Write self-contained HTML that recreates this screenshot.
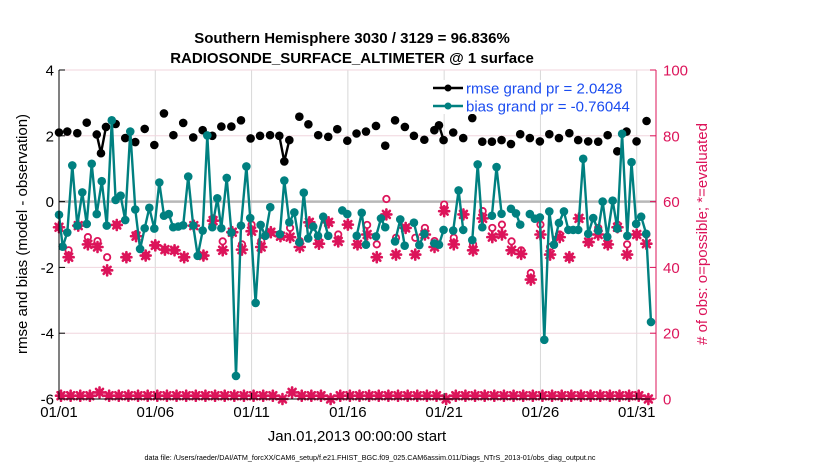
<!DOCTYPE html>
<html><head><meta charset="utf-8">
<style>
html,body{margin:0;padding:0;background:#fff;}
svg{display:block;font-family:"Liberation Sans",Arial,sans-serif;}
</style></head>
<body>
<svg id="chart" width="830" height="470" viewBox="0 0 830 470" xmlns="http://www.w3.org/2000/svg">
<text x="352" y="43" text-anchor="middle" font-size="15" font-weight="bold">Southern Hemisphere 3030 / 3129 = 96.836%</text>
<text x="352" y="63" text-anchor="middle" font-size="15" font-weight="bold">RADIOSONDE_SURFACE_ALTIMETER @ 1 surface</text>
<text transform="translate(27,234) rotate(-90)" text-anchor="middle" font-size="15">rmse and bias (model - observation)</text>
<text transform="translate(707,234) rotate(-90)" text-anchor="middle" font-size="15" fill="#dc145a"># of obs: o=possible; *=evaluated</text>
<text x="357" y="441" text-anchor="middle" font-size="15">Jan.01,2013 00:00:00 start</text>
<text x="370" y="460" text-anchor="middle" font-size="7.2">data file: /Users/raeder/DAI/ATM_forcXX/CAM6_setup/f.e21.FHIST_BGC.f09_025.CAM6assim.011/Diags_NTrS_2013-01/obs_diag_output.nc</text>
<g id="grid"></g>
<g id="marks"></g>
<g id="axes"></g>
<g id="legend"></g>
</svg>
<script>
// ---- data ----
const xTickDays = [0, 5, 10, 15, 20, 25, 30];
const xTickLabels = ["01/01", "01/06", "01/11", "01/16", "01/21", "01/26", "01/31"];
const leftTicks = [-6, -4, -2, 0, 2, 4];
const rightTicks = [0, 20, 40, 60, 80, 100];

const rmseDays = [0,0.43,0.95,1.44,1.96,2.18,2.44,2.94,3.44,3.96,4.45,4.95,5.45,5.94,6.45,6.97,7.46,7.96,8.43,8.95,9.45,9.95,10.44,10.96,11.44,11.70,11.96,12.48,12.95,13.46,13.98,14.45,14.97,15.45,15.94,16.46,16.94,17.45,17.96,18.43,18.97,19.49,19.73,19.97,20.47,20.99,21.46,21.98,22.48,22.98,23.47,23.95,24.45,24.97,25.46,25.96,26.50,26.96,27.48,28.00,28.49,28.99,29.47,29.99,30.51];
const rmseVals = [2.10,2.13,2.08,2.40,2.04,1.47,2.27,2.36,1.93,1.81,2.21,1.72,2.68,2.02,2.39,1.95,2.17,2.00,2.28,2.28,2.47,1.92,2.00,2.02,2.00,1.22,1.87,2.58,2.35,2.02,1.97,2.20,1.85,2.07,2.13,2.30,1.70,2.47,2.27,2.00,1.88,2.17,2.32,1.87,2.10,1.93,2.54,1.82,1.82,1.87,1.75,2.05,1.93,1.83,2.05,1.93,2.08,1.87,1.83,1.82,2.02,1.53,2.13,1.83,2.45];

const biasDays = [0,0.19,0.43,0.69,0.95,1.21,1.44,1.70,1.96,2.22,2.48,2.74,2.94,3.20,3.44,3.70,3.96,4.21,4.45,4.69,4.95,5.21,5.45,5.70,5.93,6.19,6.45,6.71,6.97,7.20,7.46,7.70,7.96,8.22,8.43,8.71,8.95,9.19,9.45,9.73,9.93,10.21,10.47,10.71,10.97,11.47,11.70,11.96,12.22,12.48,12.71,12.94,13.20,13.45,13.72,13.98,14.71,14.97,15.46,15.72,15.94,16.46,16.72,16.94,17.45,17.72,17.95,18.43,18.71,18.97,19.49,19.73,19.97,20.47,20.75,20.99,21.46,21.74,21.98,22.48,22.72,22.98,23.47,23.73,23.95,24.45,24.71,24.97,25.20,25.46,25.70,25.96,26.22,26.45,26.70,26.96,27.22,27.48,27.74,28.00,28.23,28.47,28.75,28.99,29.24,29.51,29.73,29.97,30.23,30.49,30.74];
const biasVals = [-0.40,-1.37,-0.94,1.10,-0.73,0.28,-0.68,1.15,-0.38,0.62,-0.73,2.47,0.05,0.18,-0.56,2.13,-0.24,-1.44,-0.81,-0.19,-0.82,0.58,-0.43,-0.38,-0.78,-0.76,-0.72,0.76,-0.73,-1.65,-0.88,2.01,-0.78,0.10,-0.81,0.72,-0.94,-5.30,-0.73,1.07,-0.50,-3.08,-0.71,-1.04,-0.17,-0.99,0.64,-0.63,-0.33,-1.24,0.27,-1.12,-0.76,-1.04,-0.46,-1.04,-0.27,-0.38,-1.04,-0.34,-1.31,-1.06,-0.51,-0.78,-1.21,-0.54,-1.34,-0.64,-1.32,-0.98,-1.27,-1.31,-0.86,-0.88,0.34,-0.86,-1.17,1.13,-0.78,-0.43,1.05,-0.37,-0.22,-0.36,-0.70,-0.38,-0.52,-0.48,-4.20,-0.30,-1.31,-0.65,-0.30,-0.86,-0.86,-0.86,1.30,-0.98,-0.50,-0.88,0.00,-1.07,0.03,-0.82,2.06,-1.04,1.20,-0.68,-0.46,-0.98,-3.66];

const obsEvaluated = [52.2,43.1,52.7,47.0,46.2,39.1,52.9,43.1,49.5,43.6,46.7,45.4,45.2,43.1,52.7,43.6,54.2,45.2,50.7,45.4,51.0,46.2,50.7,49.5,49.2,46.2,53.7,47.2,53.7,47.9,53.0,47.0,50.0,43.1,56.1,43.9,52.0,43.9,50.0,46.2,57.1,47.0,56.1,45.2,54.9,49.2,50.0,45.2,44.1,36.3,50.0,43.9,49.2,43.1,54.9,47.7,50.0,47.0,52.2,43.9,50.0,47.2];
const obsPossible = [52.2,45.2,52.7,49.2,48.0,43.1,52.9,43.1,50.0,43.6,46.7,45.4,45.2,43.1,52.7,43.6,54.9,47.9,50.7,47.0,53.0,48.0,50.7,49.5,52.0,48.0,53.7,48.0,53.7,50.0,53.0,47.0,52.9,47.0,60.8,49.0,52.0,49.0,52.0,48.0,59.1,49.0,56.1,47.0,57.1,52.0,53.0,47.9,45.2,38.3,53.0,46.2,50.0,43.1,54.9,47.7,52.0,47.0,53.0,47.0,50.0,50.0];
const obsRejected = [1,1,1,1,2,1,1,1,1,1,1,1,1,1,1,1,1,1,1,1,1,1,1,0,2,1,1,1,0,1,1,1,1,1,1,1,1,1,1,1,0,1,1,1,1,1,1,1,1,1,1,1,1,1,1,1,1,1,1,1,1,0];

// ---- axes ----
const X0 = 59, X1 = 656, Y0 = 70, Y1 = 399;
const DAYMAX = 31.0;
const xs = d => X0 + d / DAYMAX * (X1 - X0);
const yL = v => Y1 - (v + 6) / 10 * (Y1 - Y0);
const yR = v => Y1 - v / 100 * (Y1 - Y0);
const obsDay = i => i * 0.5;

const NS = "http://www.w3.org/2000/svg";
function mk(tag, attrs, parent) {
  const e = document.createElementNS(NS, tag);
  for (const k in attrs) e.setAttribute(k, attrs[k]);
  parent.appendChild(e);
  return e;
}
const grid = document.getElementById('grid');
const marks = document.getElementById('marks');
const axes = document.getElementById('axes');
const legend = document.getElementById('legend');
const RED = "#dc145a", TEAL = "#008080";

// grid
xTickDays.forEach(d => {
  const l = mk('line', {x1: xs(d), x2: xs(d), y1: Y0, y2: Y1, stroke: '#d8d8d8', 'stroke-width': 1}, grid);
  
  
});
rightTicks.forEach(v => {
  const l = mk('line', {x1: X0, x2: X1, y1: yR(v), y2: yR(v), stroke: '#f0d6de', 'stroke-width': 1}, grid);
  
  
});
const zl = mk('line', {x1: X0, x2: X1, y1: yL(0), y2: yL(0), stroke: '#b8b8b8', 'stroke-width': 2.5}, grid);



// helpers
function star(cx, cy, r, name) {
  const g = mk('g', {stroke: RED, 'stroke-width': 2.6, 'stroke-linecap': 'round'}, marks);
  
  
  mk('line', {x1: cx - r, x2: cx + r, y1: cy, y2: cy}, g);
  mk('line', {x1: cx, x2: cx, y1: cy - r, y2: cy + r}, g);
  mk('line', {x1: cx - r * .7, x2: cx + r * .7, y1: cy - r * .7, y2: cy + r * .7}, g);
  mk('line', {x1: cx - r * .7, x2: cx + r * .7, y1: cy + r * .7, y2: cy - r * .7}, g);
  mk('circle', {cx: cx, cy: cy, r: r * 0.65, fill: RED, stroke: 'none'}, g);
}
function lineSeries(days, vals, color, name) {
  let d = '';
  for (let i = 0; i < days.length; i++) {
    const p = xs(days[i]).toFixed(1) + ' ' + yL(vals[i]).toFixed(1);
    d += (i > 0 && days[i] - days[i - 1] < 0.35) ? ' L' + p : ' M' + p;
  }
  const path = mk('path', {d: d, fill: 'none', stroke: color, 'stroke-width': 2.4, 'stroke-linejoin': 'round'}, marks);
  
  
  for (let i = 0; i < days.length; i++) {
    const c = mk('circle', {cx: xs(days[i]), cy: yL(vals[i]), r: 4.3, fill: color}, marks);
    
    
  }
}

// obs counts
obsPossible.forEach((v, i) => {
  const c = mk('circle', {cx: xs(obsDay(i)), cy: yR(v), r: 3.2, fill: 'white', stroke: RED, 'stroke-width': 1.8}, marks);
  
  
});
obsEvaluated.forEach((v, i) => star(xs(obsDay(i)), yR(v), 5, 'obs-evaluated-marker'));
obsRejected.forEach((v, i) => star(xs(obsDay(i)) + 2, yR(v), 5, 'obs-bottom-marker'));

lineSeries(rmseDays, rmseVals, '#000', 'rmse');
lineSeries(biasDays, biasVals, TEAL, 'bias');

// axes frame
const fr = mk('path', {d: `M${X0} ${Y0} L${X0} ${Y1} L${X1} ${Y1}`, fill: 'none', stroke: '#000', 'stroke-width': 1}, axes);


const ra = mk('line', {x1: X1, x2: X1, y1: Y0, y2: Y1, stroke: RED, 'stroke-width': 1}, axes);


xTickDays.forEach((d, i) => {
  mk('line', {x1: xs(d), x2: xs(d), y1: Y1, y2: Y1 - 6, stroke: '#000'}, axes);
  const t = mk('text', {x: xs(d), y: Y1 + 18, 'text-anchor': 'middle', 'font-size': 15}, axes);
  t.textContent = xTickLabels[i];
  
  
});
leftTicks.forEach(v => {
  mk('line', {x1: X0, x2: X0 + 6, y1: yL(v), y2: yL(v), stroke: '#000'}, axes);
  const t = mk('text', {x: X0 - 5, y: yL(v) + 5.5, 'text-anchor': 'end', 'font-size': 15}, axes);
  t.textContent = String(v);
  
  
});
rightTicks.forEach(v => {
  mk('line', {x1: X1, x2: X1 - 6, y1: yR(v), y2: yR(v), stroke: RED}, axes);
  const t = mk('text', {x: X1 + 7, y: yR(v) + 5.5, 'font-size': 15, fill: RED}, axes);
  t.textContent = String(v);
  
  
});

// legend
const lb = mk('rect', {x: 430, y: 80, width: 203, height: 34, fill: 'white'}, legend);


[['rmse grand pr = 2.0428', '#000', 88], ['bias grand pr = -0.76044', TEAL, 106]].forEach(it => {
  const g = mk('g', {}, legend);
  
  
  mk('line', {x1: 433, x2: 463, y1: it[2], y2: it[2], stroke: it[1], 'stroke-width': 2.4}, g);
  mk('circle', {cx: 448, cy: it[2], r: 3.5, fill: it[1]}, g);
  const t = mk('text', {x: 466, y: it[2] + 5.5, 'font-size': 15, fill: '#1a4cf0'}, g);
  t.textContent = it[0];
});
</script>
</body></html>
